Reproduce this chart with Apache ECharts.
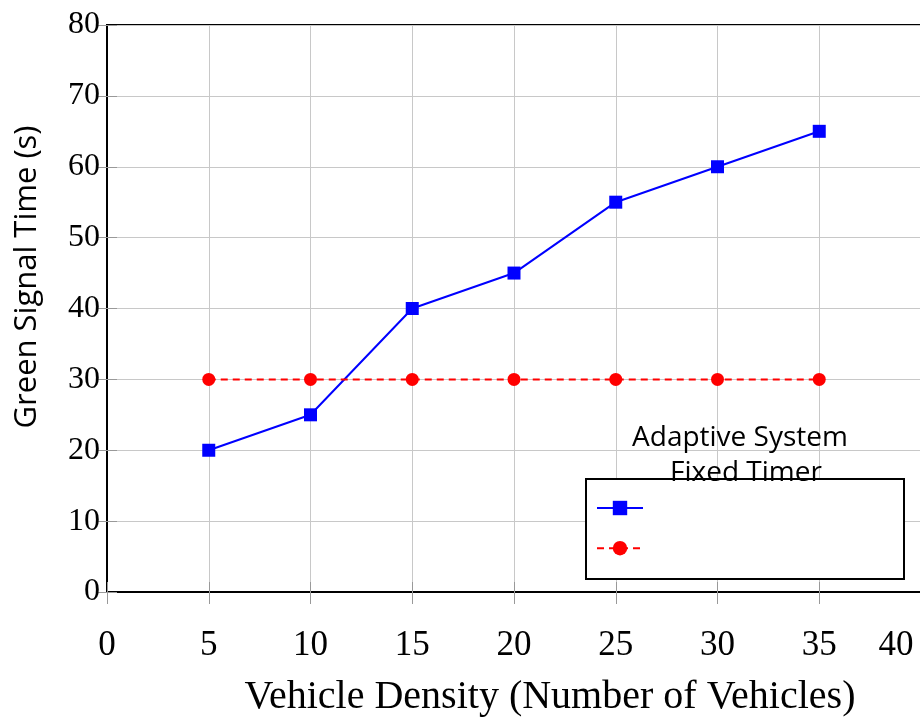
<!DOCTYPE html>
<html>
<head>
<meta charset="utf-8">
<script src="https://cdn.jsdelivr.net/npm/echarts@6/dist/echarts.min.js"></script>
<style>
  html, body { margin: 0; padding: 0; background: #fff; }
  #main { width: 920px; height: 720px; }
</style>
</head>
<body>
<div id="main"></div>
<script>
// data
var density = [5, 10, 15, 20, 25, 30, 35];
var adaptive = [20, 25, 40, 45, 55, 60, 65];
var fixedTimer = [30, 30, 30, 30, 30, 30, 30];
var seriesNames = ['Adaptive System', 'Fixed Timer'];
var yTitle = 'Green Signal Time (s)';
var xTitle = 'Vehicle Density (Number of Vehicles)';

var chart = echarts.init(document.getElementById('main'));

function pairs(xs, ys) {
  return xs.map(function (x, i) { return [x, ys[i]]; });
}

var serif = '"Liberation Serif", "DejaVu Serif", serif';
var sans = '"Open Sans", "Noto Sans", sans-serif';
var gridColor = '#c8c8c8';
var tickColor = '#999';

var option = {
  animation: false,
  backgroundColor: '#fff',
  grid: {
    left: 107, top: 25, width: 814, height: 567,
    outerBoundsMode: 'none', containLabel: false,
    show: true, borderColor: '#000', borderWidth: 2
  },
  legend: {
    orient: 'vertical',
    left: 596, top: 499, z: 20, padding: 0,
    itemWidth: 46, itemHeight: 18, itemGap: 24,
    formatter: function () { return ''; },
    data: seriesNames
  },
  xAxis: [{
    type: 'value', min: 0, max: 40, interval: 5,
    name: xTitle,
    nameLocation: 'middle', nameGap: 85,
    nameTextStyle: { fontFamily: serif, fontSize: 40, color: '#000', padding: [0, 0, 0, 72] },
    axisLine: { show: true, lineStyle: { color: '#000', width: 2 } },
    axisTick: { show: true, inside: true, length: 10, lineStyle: { color: tickColor } },
    axisLabel: {
      margin: 36, fontFamily: serif, fontSize: 35, color: '#000',
      // last label sits pulled in from the cut-off right edge
      formatter: function (v) { return v === 40 ? '{r|' + v + '}' : '' + v; },
      rich: { r: { fontFamily: serif, fontSize: 35, color: '#000', padding: [0, 50, 0, 0] } }
    },
    splitLine: { show: true, lineStyle: { color: gridColor, width: 1 } }
  }, {
    type: 'value', position: 'top', min: 0, max: 40, interval: 5,
    axisLine: { show: false },
    axisTick: { show: true, inside: true, length: 12, lineStyle: { color: tickColor } },
    axisLabel: { show: false }, splitLine: { show: false }
  }],
  yAxis: [{
    type: 'value', min: 0, max: 80, interval: 10,
    axisLine: { show: true, lineStyle: { color: '#000', width: 2 } },
    axisTick: { show: true, inside: true, length: 10, lineStyle: { color: tickColor } },
    axisLabel: { margin: 7, fontFamily: serif, fontSize: 32, color: '#000' },
    splitLine: { show: true, lineStyle: { color: gridColor, width: 1 } }
  }, {
    type: 'value', position: 'right', min: 0, max: 80, interval: 10,
    axisLine: { show: false },
    axisTick: { show: true, inside: true, length: 10, lineStyle: { color: tickColor } },
    axisLabel: { show: false }, splitLine: { show: false }
  }],
  graphic: [
    {
      type: 'text', z: 30, x: 27, y: 277, rotation: Math.PI / 2,
      style: { text: yTitle, fontFamily: sans, fontSize: 31, fill: '#000', align: 'center', verticalAlign: 'middle' }
    },
    {
      type: 'rect', z: 3,
      shape: { x: 586, y: 479, width: 318, height: 100 },
      style: { fill: '#fff', stroke: '#000', lineWidth: 2 }
    },
    {
      type: 'text', z: 30, x: 740, y: 438,
      style: { text: seriesNames[0], fontFamily: sans, fontSize: 28, fill: '#000', align: 'center', verticalAlign: 'middle' }
    },
    {
      type: 'text', z: 30, x: 746, y: 473,
      style: { text: seriesNames[1], fontFamily: sans, fontSize: 28, fill: '#000', align: 'center', verticalAlign: 'middle' }
    }
  ],
  series: [
    {
      name: seriesNames[0], type: 'line',
      data: pairs(density, adaptive),
      symbol: 'rect', symbolSize: 13,
      itemStyle: { color: '#0000ff' },
      lineStyle: { color: '#0000ff', width: 2 }
    },
    {
      name: seriesNames[1], type: 'line',
      data: pairs(density, fixedTimer),
      symbol: 'circle', symbolSize: 13,
      itemStyle: { color: '#ff0000' },
      lineStyle: { color: '#ff0000', width: 2, type: [7, 5] }
    }
  ]
};

chart.setOption(option);
</script>
</body>
</html>
